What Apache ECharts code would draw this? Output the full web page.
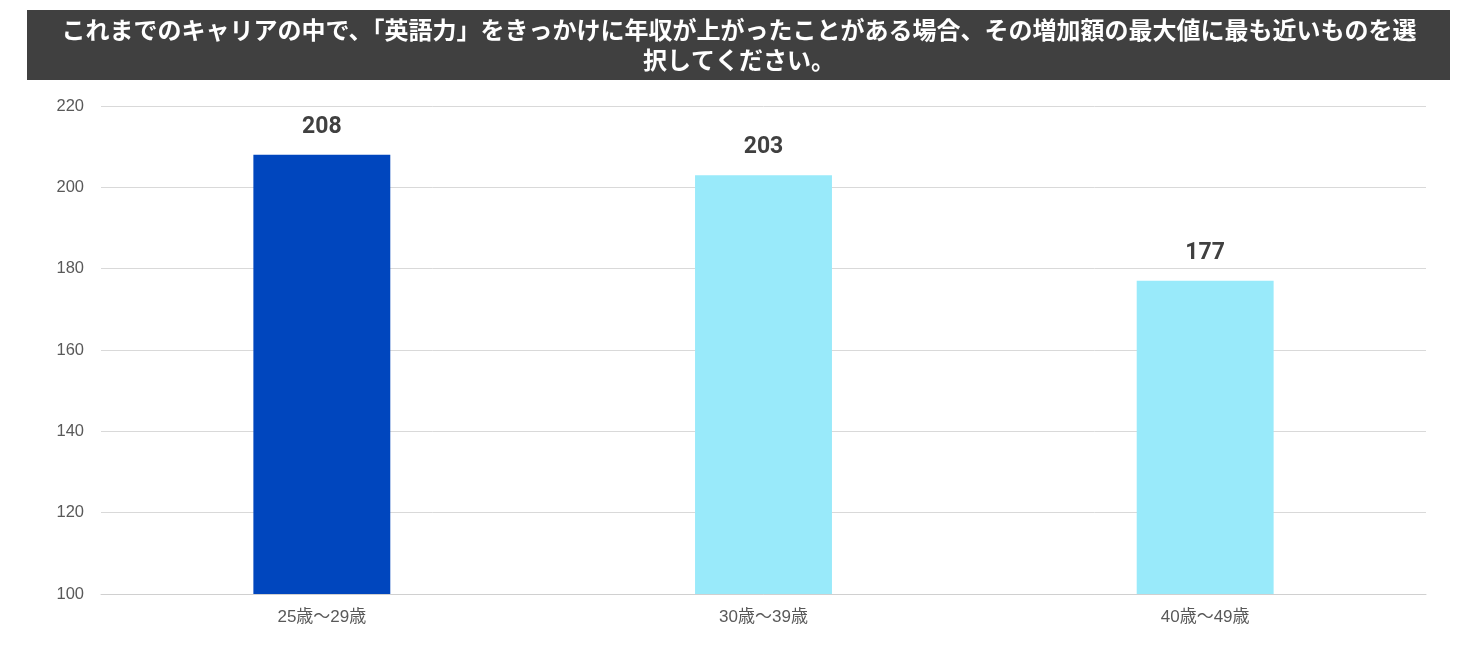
<!DOCTYPE html>
<html><head><meta charset="utf-8">
<script src="https://cdn.jsdelivr.net/npm/echarts@6/dist/echarts.min.js"></script>
<style>html,body{margin:0;padding:0;background:#fff}#c{width:1478px;height:650px}</style>
</head><body><div id="c"></div>
<script>
const titleText = 'これまでのキャリアの中で、「英語力」をきっかけに年収が上がったことがある場合、その増加額の最大値に最も近いものを選\n択してください。';
const categories = ['25歳～29歳', '30歳～39歳', '40歳～49歳'];
const values = [208, 203, 177];
const barColors = ['#0046BE', '#99EAFA', '#99EAFA'];
const yTicks = [100, 120, 140, 160, 180, 200, 220];

const chart = echarts.init(document.getElementById('c'));
chart.setOption({
  animation: false,
  graphic: [{
    type: 'rect', left: 27, top: 10, shape: {width: 1423, height: 70},
    style: {fill: '#404040'}, z: -1
  }],
  title: {
    text: titleText, left: 'center', top: 10,
    textStyle: {color: '#fff', fontSize: 24, fontWeight: 'bold', lineHeight: 30,
      fontFamily: '"Noto Sans CJK JP", sans-serif'}
  },
  grid: {left: 101, right: 52, top: 106, bottom: 56},
  xAxis: {
    type: 'category', data: categories,
    axisLine: {lineStyle: {color: '#d0d0d0', width: 1}},
    axisTick: {show: false},
    axisLabel: {color: '#595959', fontSize: 17, margin: 15,
      fontFamily: '"Liberation Sans", "Noto Sans CJK JP", sans-serif'}
  },
  yAxis: {
    type: 'value', min: yTicks[0], max: yTicks[yTicks.length - 1], interval: 20,
    axisLine: {show: false}, axisTick: {show: false},
    axisLabel: {color: '#595959', fontSize: 16.5, margin: 17, fontFamily: '"Liberation Sans", Arial, sans-serif'},
    splitLine: {lineStyle: {color: '#d9d9d9', width: 1}}
  },
  series: [{
    type: 'bar', barWidth: '31%',
    data: values.map((v, i) => ({value: v, itemStyle: {color: barColors[i]}})),
    label: {show: true, position: 'top', distance: 16, color: '#404040', fontSize: 23,
      fontWeight: 'bold', fontFamily: 'Roboto, "Liberation Sans", sans-serif'}
  }]
});
</script></body></html>
